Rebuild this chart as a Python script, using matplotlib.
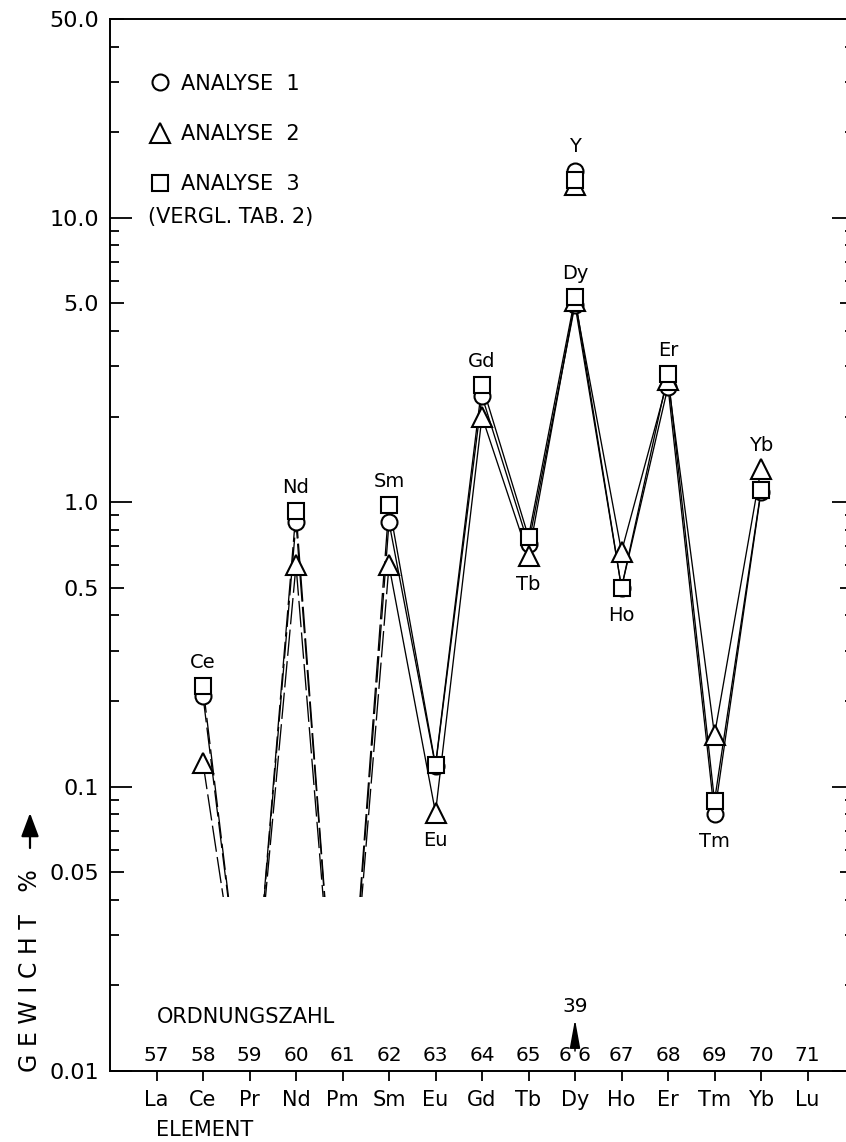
import numpy as np
import matplotlib
matplotlib.use('Agg')
from matplotlib import pyplot as plt
from matplotlib.patches import Rectangle, FancyArrowPatch
from matplotlib.ticker import FixedLocator, NullFormatter

# Seltene Erden, Ordnungszahl 57..71
elements = ['La', 'Ce', 'Pr', 'Nd', 'Pm', 'Sm', 'Eu', 'Gd', 'Tb', 'Dy', 'Ho', 'Er', 'Tm', 'Yb', 'Lu']
ordnungszahl = list(range(57, 72))
nan = np.nan

# Gewicht % je Element
analyse_1 = [nan, 0.208, nan, 0.85, nan, 0.85, 0.118, 2.36, 0.71, 4.95, 0.50, 2.55, 0.080, 1.09, nan]
analyse_2 = [nan, 0.121, nan, 0.60, nan, 0.60, 0.081, 2.00, 0.645, 5.10, 0.67, 2.70, 0.152, 1.31, nan]
analyse_3 = [nan, 0.225, nan, 0.93, nan, 0.98, 0.119, 2.59, 0.755, 5.25, 0.50, 2.82, 0.089, 1.10, nan]
series_names = ['ANALYSE  1', 'ANALYSE  2', 'ANALYSE  3']

# Yttrium (Z=39), eingetragen bei Dy
yttrium = [14.6, 13.0, 13.6]
yttrium_at = 'Dy'
yttrium_z = 39

# Richtung der gestrichelten Linien bei Pr und Pm (unterhalb des Schnitts)
trend_pr = 0.010
trend_pm = 0.006
line_cut = 0.041

labels_above = ['Ce', 'Nd', 'Sm', 'Gd', 'Dy', 'Er', 'Yb']
labels_below = ['Eu', 'Tb', 'Ho', 'Tm']

y_ticks = [0.01, 0.05, 0.1, 0.5, 1.0, 5.0, 10.0, 50.0]
y_ticklabels = ['0.01', '0.05', '0.1', '0.5', '1.0', '5.0', '10.0', '50.0']

plt.rcParams['font.family'] = ['DejaVu Sans']

fig = plt.figure(figsize=(8.46, 11.42), dpi=100)
ax = fig.add_axes([110 / 846, 1 - 1071 / 1142, 744 / 846, 1052 / 1142])

ax.set_yscale('log')
ax.set_ylim(0.01, 50)
ax.set_xlim(56, 72)

markers = ['o', '^', 's']
msizes = [11.5, 14, 11.5]
series = [analyse_1, analyse_2, analyse_3]
z = np.array(ordnungszahl)
idx = {e: i for i, e in enumerate(elements)}

clip = Rectangle((56, line_cut), 16, 100, transform=ax.transData)

for vals in series:
    v = np.array(vals)
    # gestrichelt: Ce .. Sm
    dz = z[idx['Ce']:idx['Sm'] + 1]
    dv = [v[idx['Ce']], trend_pr, v[idx['Nd']], trend_pm, v[idx['Sm']]]
    dl, = ax.plot(dz, dv, color='black', lw=0.95, dashes=(20, 4), zorder=2)
    dl.set_clip_path(clip)
    # durchgezogen: Sm .. Yb
    sz = z[idx['Sm']:idx['Yb'] + 1]
    sv = v[idx['Sm']:idx['Yb'] + 1]
    ax.plot(sz, sv, color='black', lw=0.95, zorder=2)

for k, (vals, m, ms, name) in enumerate(zip(series, markers, msizes, series_names)):
    ax.plot(z, vals, linestyle='none', marker=m, ms=ms, mfc='white', mec='black',
            mew=1.5, zorder=3 + k, label=name)
    ax.plot([z[idx[yttrium_at]]], [yttrium[k]], linestyle='none', marker=m, ms=ms,
            mfc='white', mec='black', mew=1.5, zorder=3 + k)

# Elementnamen an den Punkten
for e in labels_above:
    top = np.nanmax([s[idx[e]] for s in series])
    ax.annotate(e, (z[idx[e]], top), xytext=(0, 17), textcoords='offset points',
                ha='center', va='center', fontsize=14)
for e in labels_below:
    low = np.nanmin([s[idx[e]] for s in series])
    ax.annotate(e, (z[idx[e]], low), xytext=(0, -20), textcoords='offset points',
                ha='center', va='center', fontsize=14)
ax.annotate('Y', (z[idx[yttrium_at]], max(yttrium)), xytext=(0, 18),
            textcoords='offset points', ha='center', va='center', fontsize=14)

# Achsen
ax.set_yticks(y_ticks)
ax.set_yticklabels(y_ticklabels, fontsize=16)
minor = [m * 10.0 ** p for p in range(-2, 2) for m in (2, 3, 4, 6, 7, 8, 9) if m * 10.0 ** p < 50]
ax.yaxis.set_minor_locator(FixedLocator(minor))
ax.yaxis.set_minor_formatter(NullFormatter())
ax.tick_params(axis='y', which='both', direction='in', left=True, right=True, width=1.3, pad=8)
ax.tick_params(axis='y', which='minor', length=6.5)
for tick, val in zip(ax.yaxis.get_major_ticks(), y_ticks):
    L = 16 if abs(np.log10(val) - round(np.log10(val))) < 1e-6 else 10
    tick.tick1line.set_markersize(L)
    tick.tick2line.set_markersize(L)

ax.set_xticks(z)
ax.set_xticklabels(elements, fontsize=15)
ax.tick_params(axis='x', direction='out', length=7, width=1.3, pad=7, top=False)

for s in ax.spines.values():
    s.set_linewidth(1.4)
ax.spines['right'].set_visible(False)

# Ordnungszahlen ueber der x-Achse
xt = ax.get_xaxis_transform()
for n, zz in zip(ordnungszahl, z):
    txt = ' '.join(str(n)) if elements[zz - 57] == yttrium_at else str(n)
    ax.text(zz, 0.0152, txt, transform=xt, ha='center', va='center', fontsize=14.5)
ax.text(z[idx[yttrium_at]], 0.061, str(yttrium_z), transform=xt, ha='center',
        va='center', fontsize=14.5)
ax.annotate('', xy=(z[idx[yttrium_at]], 0.049), xytext=(z[idx[yttrium_at]], 0.019),
            xycoords=xt, textcoords=xt,
            arrowprops=dict(arrowstyle='-|>,head_length=1.1,head_width=0.2',
                            color='black', lw=1.1, mutation_scale=16,
                            shrinkA=0, shrinkB=0))
ax.text(57, 0.0513, 'ORDNUNGSZAHL', transform=xt, ha='left', va='center', fontsize=15)
ax.text(57, -0.056, 'ELEMENT', transform=xt, ha='left', va='center', fontsize=15)

# Legende
ax.legend(loc='upper left', bbox_to_anchor=(0.0538, 0.948), frameon=False, fontsize=15,
          labelspacing=1.45, handlelength=1.0, handletextpad=0.5, borderpad=0,
          borderaxespad=0)
ax.text(0.051, 0.8118, '(VERGL. TAB. 2)', transform=ax.transAxes, ha='left',
        va='center', fontsize=15)

# y-Beschriftung
fig.text(30 / 846, 1 - 971 / 1142, 'G E W I C H T   %', rotation=90, ha='center',
         va='center', fontsize=17)
fig.add_artist(FancyArrowPatch(
    (30 / 846, 1 - 848 / 1142), (30 / 846, 1 - 813 / 1142), transform=fig.transFigure,
    arrowstyle='-|>,head_length=0.8,head_width=0.3', mutation_scale=18,
    color='black', lw=1.6, shrinkA=0, shrinkB=0))

fig.savefig('out.png', dpi=100)
